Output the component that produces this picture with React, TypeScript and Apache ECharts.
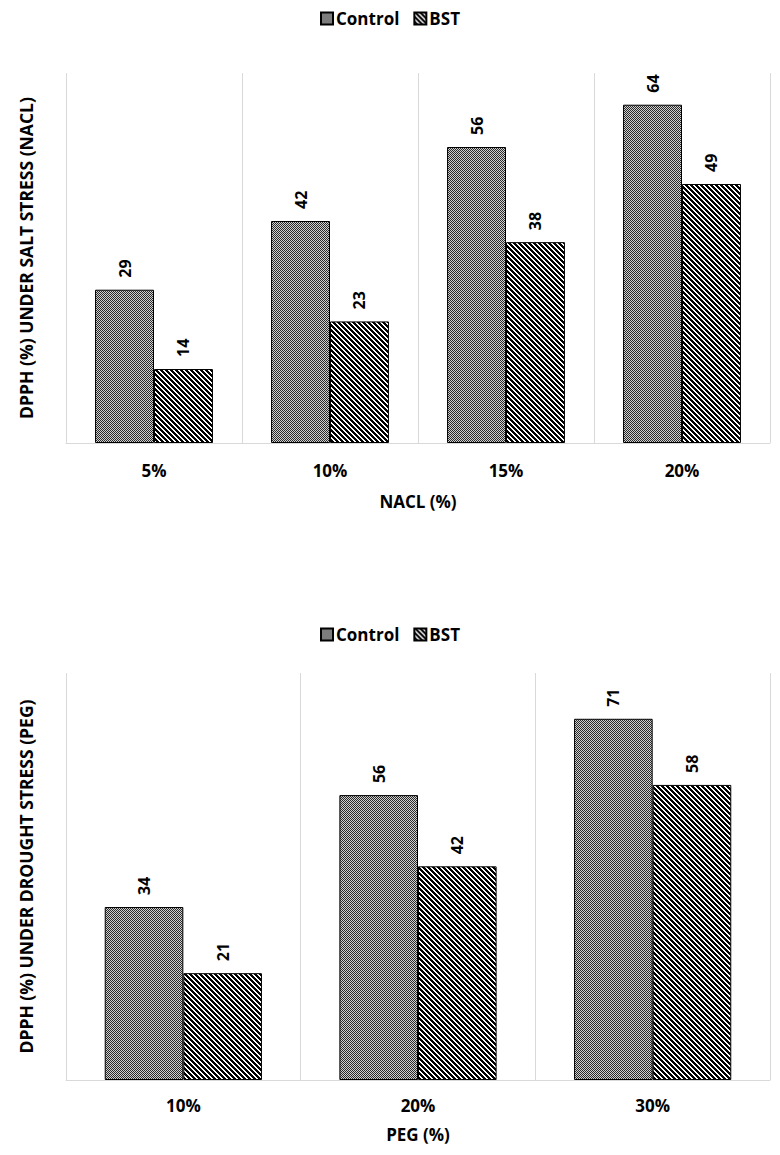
import React, { useEffect, useRef } from "react";
import * as echarts from "echarts";

const naclCategories = ["5%", "10%", "15%", "20%"];
const naclControl = [29, 42, 56, 64];
const naclBST = [14, 23, 38, 49];

const pegCategories = ["10%", "20%", "30%"];
const pegControl = [34, 56, 71];
const pegBST = [21, 42, 58];

const seriesNames = ["Control", "BST"];

const FONT = "'Open Sans', 'Noto Sans', sans-serif";

function makeChecker(): HTMLCanvasElement {
  const c = document.createElement("canvas");
  c.width = 2;
  c.height = 2;
  const ctx = c.getContext("2d")!;
  ctx.fillStyle = "#d0d0d0";
  ctx.fillRect(0, 0, 2, 2);
  ctx.fillStyle = "#2a2a2a";
  ctx.fillRect(0, 0, 1, 1);
  ctx.fillRect(1, 1, 1, 1);
  return c;
}

function makeHatch(): HTMLCanvasElement {
  const p = 5;
  const c = document.createElement("canvas");
  c.width = p;
  c.height = p;
  const ctx = c.getContext("2d")!;
  ctx.fillStyle = "#ffffff";
  ctx.fillRect(0, 0, p, p);
  ctx.fillStyle = "#000000";
  for (let x = 0; x < p; x++) {
    for (let y = 0; y < p; y++) {
      const d = (((x - y) % p) + p) % p;
      if (d < 3) ctx.fillRect(x, y, 1, 1);
    }
  }
  return c;
}

export default function App() {
  const ref = useRef<HTMLDivElement>(null);

  useEffect(() => {
    document.body.style.margin = "0";
    if (!ref.current) return;
    const chart = echarts.init(ref.current, undefined, { renderer: "svg" });

    const checker = { image: makeChecker(), repeat: "repeat" } as any;
    const hatch = { image: makeHatch(), repeat: "repeat" } as any;

    const labelCommon = {
      show: true,
      position: "top",
      rotate: 90,
      align: "left",
      verticalAlign: "middle",
      distance: 12,
      color: "#000",
      fontWeight: "bold",
      fontSize: 16,
      fontFamily: FONT,
    };

    const barBase = {
      type: "bar",
      barGap: "0%",
      barCategoryGap: "33%",
      label: labelCommon,
    };

    const catAxis = (idx: number, data: string[], name: string, margin: number, nameGap: number) => ({
      type: "category",
      gridIndex: idx,
      data,
      name,
      nameLocation: "middle",
      nameGap,
      nameTextStyle: { fontFamily: FONT, fontWeight: "bold", fontSize: 17, color: "#000" },
      axisLine: { show: true, lineStyle: { color: "#d9d9d9", width: 1 } },
      axisTick: { show: false },
      axisLabel: {
        margin,
        fontFamily: FONT,
        fontWeight: "bold",
        fontSize: 17,
        color: "#000",
      },
      splitLine: { show: true, interval: 0, lineStyle: { color: "#d9d9d9", width: 1 } },
    });

    const valAxis = (idx: number, max: number, name: string) => ({
      type: "value",
      gridIndex: idx,
      min: 0,
      max,
      interval: 10,
      name,
      nameLocation: "middle",
      nameGap: 31,
      nameRotate: 90,
      nameTextStyle: { fontFamily: FONT, fontWeight: "bold", fontSize: 17.5, color: "#000" },
      axisLine: { show: false },
      axisTick: { show: false },
      axisLabel: { show: false },
      splitLine: { show: false },
    });

    const legendBase = {
      data: seriesNames,
      left: "center",
      itemWidth: 12,
      itemHeight: 12,
      itemGap: 14,
      icon: "rect",
      textStyle: { fontFamily: FONT, fontWeight: "bold", fontSize: 17, color: "#000", padding: [0, 0, 0, -2] },
    };

    chart.setOption({
      animation: false,
      backgroundColor: "#ffffff",
      legend: [
        { ...legendBase, top: 5 },
        { ...legendBase, top: 621 },
      ],
      grid: [
        { left: 66, right: 10, top: 73, height: 370 },
        { left: 66, right: 10, top: 673, height: 407 },
      ],
      xAxis: [
        catAxis(0, naclCategories, "NACL (%)", 19, 50),
        catAxis(1, pegCategories, "PEG (%)", 17, 46),
      ],
      yAxis: [
        valAxis(0, 70, "DPPH (%) UNDER SALT STRESS (NACL)"),
        valAxis(1, 80, "DPPH (%) UNDER DROUGHT STRESS (PEG)"),
      ],
      series: [
        {
          ...barBase,
          name: seriesNames[0],
          xAxisIndex: 0,
          yAxisIndex: 0,
          data: naclControl,
          itemStyle: { color: checker, borderColor: "#000", borderWidth: 1 },
        },
        {
          ...barBase,
          name: seriesNames[1],
          xAxisIndex: 0,
          yAxisIndex: 0,
          data: naclBST,
          itemStyle: { color: hatch, borderColor: "#000", borderWidth: 1 },
        },
        {
          ...barBase,
          name: seriesNames[0],
          xAxisIndex: 1,
          yAxisIndex: 1,
          data: pegControl,
          itemStyle: { color: checker, borderColor: "#000", borderWidth: 1 },
        },
        {
          ...barBase,
          name: seriesNames[1],
          xAxisIndex: 1,
          yAxisIndex: 1,
          data: pegBST,
          itemStyle: { color: hatch, borderColor: "#000", borderWidth: 1 },
        },
      ],
    } as any);

    return () => chart.dispose();
  }, []);

  return <div ref={ref} style={{ width: 780, height: 1155 }} />;
}
